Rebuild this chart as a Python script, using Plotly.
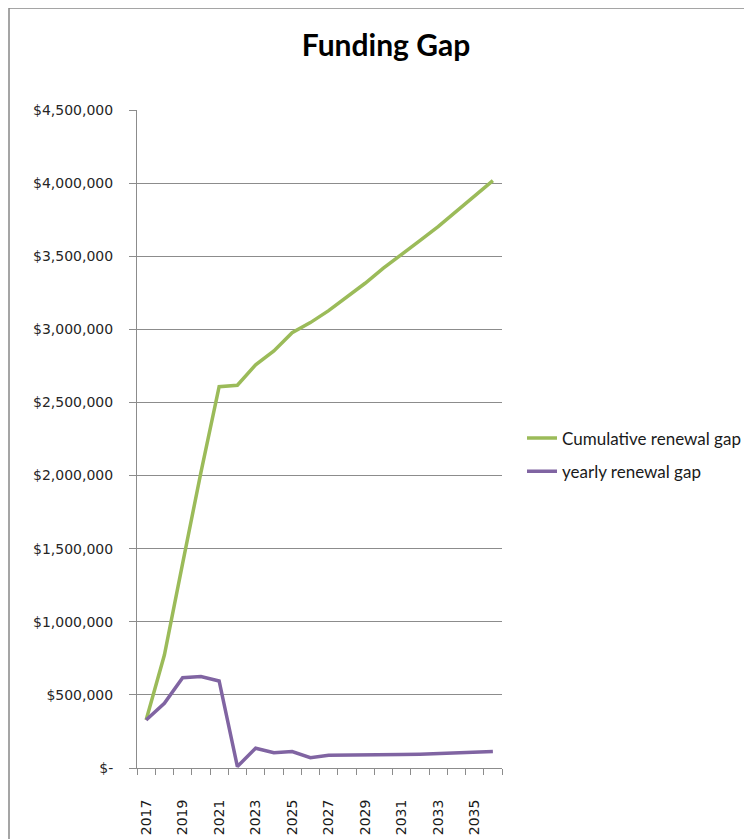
import plotly.graph_objects as go

years = list(range(2017, 2037))
cumulative_gap = [328000, 773000, 1400000, 2020000, 2608000, 2618000, 2757000, 2852000,
                  2977000, 3046000, 3128000, 3219000, 3315000, 3418000, 3509000, 3607000,
                  3702000, 3805000, 3912000, 4017000]
yearly_gap = [328000, 443000, 618000, 625000, 595000, 10000, 135000, 105000, 112000,
              71000, 87000, 87000, 89000, 91000, 92000, 94000, 98000, 102000, 104000, 112000]
y_tick_vals = [0, 500000, 1000000, 1500000, 2000000, 2500000, 3000000, 3500000, 4000000, 4500000]
y_tick_text = ["$-", "$500,000", "$1,000,000", "$1,500,000", "$2,000,000", "$2,500,000",
               "$3,000,000", "$3,500,000", "$4,000,000", "$4,500,000"]
x_tick_vals = years[::2]
x_tick_text = [str(y) for y in x_tick_vals]

W, H = 752, 839
OFF = 8  # page body margin: screen px = figure px + OFF
# plot area in screen px: x 137..502, y 110..768
L, T = 137 - OFF, 110 - OFF
R = W - (502 - OFF)
B = H - (768 - OFF)
pw, ph = W - L - R, H - T - B

def px_to_paper_x(px):
    return (px - OFF - L) / pw

def px_to_paper_y(py):
    return (H - B - (py - OFF)) / ph

fig = go.Figure()
fig.add_trace(go.Scatter(x=years, y=cumulative_gap, mode="lines", name="Cumulative renewal gap",
                         line=dict(color="#9BBB59", width=3.5), legendgroup="a"))
fig.add_trace(go.Scatter(x=years, y=yearly_gap, mode="lines", name="yearly renewal gap",
                         line=dict(color="#8064A2", width=3.5), legendgroup="b"))

grid = "#8c8c8c"
fig.update_layout(
    width=W, height=H,
    margin=dict(l=L, r=R, t=T, b=B, autoexpand=False),
    paper_bgcolor="white", plot_bgcolor="white",
    title=dict(text="<b>Funding Gap</b>", font=dict(family="Lato", size=30, color="black"),
               x=px_to_paper_x(386), xref="paper", xanchor="center",
               y=1 - (45 - OFF) / H, yref="container", yanchor="middle"),
    xaxis=dict(range=[2016.5, 2036.5], tickmode="array", tickvals=x_tick_vals, ticktext=x_tick_text,
               tickangle=-90, ticks="", showgrid=False, zeroline=False,
               showline=True, linecolor=grid, linewidth=1,
               tickfont=dict(family="DejaVu Sans", size=14, color="#1a1a1a"),
               ticklabelstandoff=25,
               minor=dict(tickvals=[y - 0.5 for y in years] + [years[-1] + 0.5],
                          ticks="outside", ticklen=6, tickcolor=grid, showgrid=False)),
    yaxis=dict(range=[0, 4500000], tickmode="array", tickvals=y_tick_vals, ticktext=y_tick_text,
               ticks="outside", ticklen=7, tickcolor=grid, showgrid=True, gridcolor=grid,
               gridwidth=1, zeroline=False, showline=True, linecolor=grid, linewidth=1,
               tickfont=dict(family="DejaVu Sans", size=14, color="#262626"),
               ticklabelstandoff=13),
    legend=dict(x=px_to_paper_x(522), y=px_to_paper_y(455), xanchor="left", yanchor="middle",
                font=dict(family="Lato", size=17, color="#1a1a1a"),
                traceorder="grouped", tracegroupgap=8, bgcolor="rgba(0,0,0,0)"),
    showlegend=True,
    shapes=[
        dict(type="line", xref="paper", yref="paper",
             x0=px_to_paper_x(9), x1=px_to_paper_x(9),
             y0=px_to_paper_y(8), y1=px_to_paper_y(900),
             line=dict(color="#878787", width=1.5)),
        dict(type="line", xref="paper", yref="paper",
             x0=px_to_paper_x(9), x1=px_to_paper_x(800),
             y0=px_to_paper_y(8), y1=px_to_paper_y(8),
             line=dict(color="#878787", width=1.5)),
    ],
)

fig.write_html("out.html")
